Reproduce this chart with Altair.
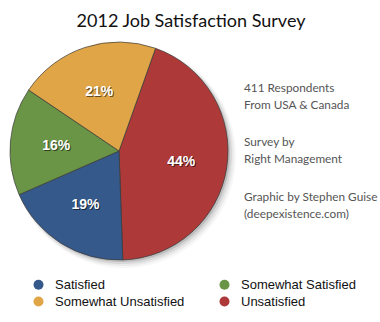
import altair as alt
import pandas as pd

categories = ["Unsatisfied", "Satisfied", "Somewhat Satisfied", "Somewhat Unsatisfied"]
values = [44, 19, 16, 21]
legend_order = ["Satisfied", "Somewhat Unsatisfied", "Somewhat Satisfied", "Unsatisfied"]
legend_colors = ["#35598A", "#E0A546", "#6A9446", "#AD3A39"]

title_text = "2012 Job Satisfaction Survey"
note_blocks = [
    ["411 Respondents", "From USA & Canada"],
    ["Survey by", "Right Management"],
    ["Graphic by Stephen Guise", "(deepexistence.com)"],
]

df = pd.DataFrame({
    "category": categories,
    "value": values,
    "order": list(range(len(categories))),
    "label": [f"{v}%" for v in values],
})

START = 0.342
theta_scale = alt.Scale(range=[START, START + 6.283185])
CX, CY, R = 119, 151, 109

base = alt.Chart(df).encode(
    theta=alt.Theta("value:Q", stack=True, scale=theta_scale),
    order=alt.Order("order:Q"),
)

shadows = []
for dx, dy, extra, op in [(1, 1, 1, 0.18), (2, 2, 2, 0.12), (3, 3, 3, 0.08), (4, 4, 4, 0.05), (5, 5, 5, 0.03)]:
    shadows.append(
        base.mark_arc(outerRadius=R + extra - 2, color="#000000", opacity=op).encode(
            x=alt.value(CX + dx), y=alt.value(CY + dy)
        )
    )

pie = base.mark_arc(outerRadius=R, stroke="#3a3a3a", strokeWidth=0.7).encode(
    x=alt.value(CX), y=alt.value(CY),
    color=alt.Color(
        "category:N",
        scale=alt.Scale(domain=legend_order, range=legend_colors),
        sort=legend_order,
        legend=alt.Legend(
            title=None, orient="none", legendX=32, legendY=278,
            columns=2, columnPadding=33, rowPadding=3,
            symbolType="circle", symbolSize=100, symbolStrokeWidth=0,
            labelFont="Liberation Sans", labelFontSize=13, labelColor="#111111",
            labelOffset=10, labelLimit=300,
        ),
    ),
)

lbl_shadow = base.mark_text(
    radius=63, font="Liberation Sans", fontSize=14, fontWeight="bold",
    color="#000000", opacity=0.55, dx=1, dy=2,
).encode(x=alt.value(CX), y=alt.value(CY), text="label:N")
lbl = base.mark_text(
    radius=63, font="Liberation Sans", fontSize=14, fontWeight="bold", color="#ffffff", dy=1,
).encode(x=alt.value(CX), y=alt.value(CY), text="label:N")

title = alt.Chart(pd.DataFrame({"t": [title_text]})).mark_text(
    font="Lato", fontSize=18, color="#111111", align="center", baseline="alphabetic",
).encode(text="t:N", x=alt.value(191), y=alt.value(27))

note_y = [92, 146, 201]
notes = []
for block, yy in zip(note_blocks, note_y):
    notes.append(
        alt.Chart(pd.DataFrame({"t": [block]})).mark_text(
            font="Lato", fontSize=11.8, color="#555555", align="left",
            baseline="alphabetic", lineHeight=17,
        ).encode(text="t", x=alt.value(244), y=alt.value(yy))
    )

chart = alt.layer(*shadows, pie, lbl_shadow, lbl, title, *notes).properties(
    width=380, height=322, autosize=alt.AutoSizeParams(type="none"), padding=0,
    background="#ffffff",
).configure_view(stroke=None)

chart.save("out.html", embed_options={"renderer": "svg", "actions": False})
